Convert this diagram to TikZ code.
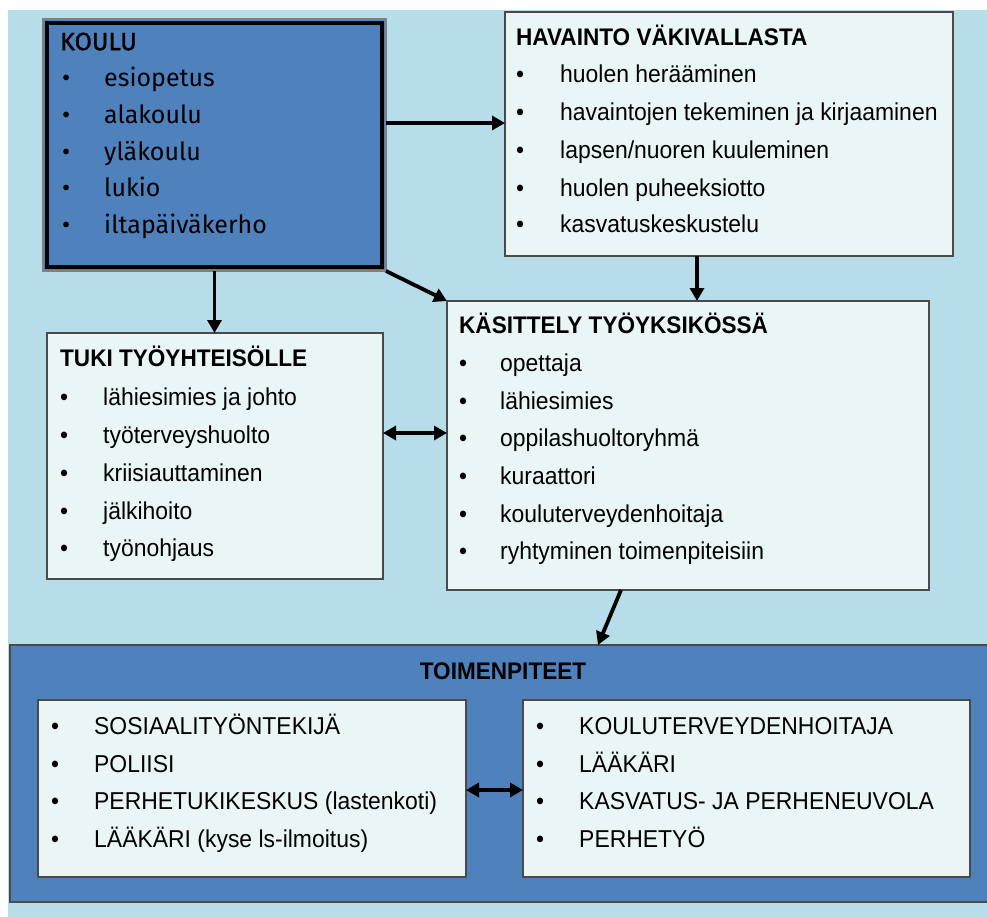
\documentclass[tikz,border=0pt]{standalone}
\usepackage{fontspec}
\setmainfont[FakeStretch=0.94]{Liberation Sans}
\newfontfamily\schoolfont{Fira Sans}
\newfontfamily\schoolheadfont[FakeBold=1.2]{Fira Sans}
\usetikzlibrary{arrows.meta}
\definecolor{bgblue}{HTML}{B7DDE8}
\definecolor{darkblue}{HTML}{4F81BD}
\definecolor{paleblue}{HTML}{EAF6F6}
\definecolor{edgegray}{HTML}{4A4A4A}

\begin{document}
\begin{tikzpicture}[x=1pt,y=-1pt,
  panel/.style={draw=edgegray, line width=1.2pt, fill=paleblue, inner sep=0pt, outer sep=0pt},
  textline/.style={anchor=mid west, inner sep=0pt, yshift=-6.5pt},
  heading/.style={textline, font=\fontsize{24}{28}\selectfont\bfseries},
  item/.style={textline, font=\fontsize{24.4}{28}\selectfont},
  schoolitem/.style={textline, font=\schoolfont\fontsize{25}{29}\selectfont},
  schoolhead/.style={textline, font=\schoolheadfont\fontsize{25}{29}\selectfont},
  link/.style={line width=3.8pt, -{Triangle[length=13pt,width=14pt]}},
  duplex/.style={line width=3.8pt, {Triangle[length=13pt,width=14pt]}-{Triangle[length=13pt,width=14pt]}}]

% canvas
\fill[white] (0,0) rectangle (987,917);
\fill[bgblue] (8,10) rectangle (987,917);
\useasboundingbox (0,0) rectangle (987,917);

% KOULU
\node[draw=gray, line width=1.2pt, fill=darkblue, minimum width=343pt, minimum height=252pt,
      inner sep=0pt, outer sep=0pt] (koulu) at (214.5,145) {};
\node[draw=black, line width=4pt, minimum width=335pt, minimum height=244pt,
      inner sep=0pt] (kouluframe) at (214.5,145) {};
\node[schoolhead] (koulut) at (60,41) {KOULU};
\foreach \y/\t [count=\i] in {77/esiopetus,114/alakoulu,151/yläkoulu,187/lukio,224/iltapäiväkerho}{
  \node[schoolitem] (kb\i) at (62,\y) {•};
  \node[schoolitem] (ki\i) at (104,\y) {\t};
}

% HAVAINTO VÄKIVALLASTA
\node[panel, minimum width=448pt, minimum height=244pt] (havainto) at (729,134) {};
\node[heading] (havt) at (516,36) {HAVAINTO VÄKIVALLASTA};
\foreach \y/\t [count=\i] in {73/{huolen herääminen},111/{havaintojen tekeminen ja kirjaaminen},
    149/{lapsen/nuoren kuuleminen},187/{huolen puheeksiotto},223/{kasvatuskeskustelu}}{
  \node[item] (hb\i) at (516,\y) {•};
  \node[item] (hi\i) at (560,\y) {\t};
}

% TUKI TYÖYHTEISÖLLE
\node[panel, minimum width=336pt, minimum height=246pt] (tuki) at (215,456) {};
\node[heading] (tukit) at (60,357) {TUKI TYÖYHTEISÖLLE};
\foreach \y/\t [count=\i] in {396/lähiesimies ja johto,434/työterveyshuolto,472/kriisiauttaminen,
    510/jälkihoito,547/työnohjaus}{
  \node[item] (tb\i) at (60,\y) {•};
  \node[item] (ti\i) at (103,\y) {\t};
}

% KÄSITTELY TYÖYKSIKÖSSÄ
\node[panel, minimum width=482pt, minimum height=289pt] (kasittely) at (688,445.5) {};
\node[heading] (kast) at (459,324) {KÄSITTELY TYÖYKSIKÖSSÄ};
\foreach \y/\t [count=\i] in {362/opettaja,400/lähiesimies,437/oppilashuoltoryhmä,475/kuraattori,
    513/kouluterveydenhoitaja,550/ryhtyminen toimenpiteisiin}{
  \node[item] (sb\i) at (459,\y) {•};
  \node[item] (si\i) at (500,\y) {\t};
}

% TOIMENPITEET
\node[draw=edgegray, line width=1.2pt, fill=darkblue, minimum width=982pt, minimum height=257pt,
      inner sep=0pt, outer sep=0pt] (toimen) at (501,773.5) {};
\node[heading, anchor=mid] (toiment) at (503,670) {TOIMENPITEET};
\node[panel, minimum width=428pt, minimum height=177pt] (left) at (252,788.5) {};
\node[panel, minimum width=447pt, minimum height=177pt] (right) at (746.5,788.5) {};
\foreach \y/\t [count=\i] in {725/SOSIAALITYÖNTEKIJÄ,763/POLIISI,800/{PERHETUKIKESKUS (lastenkoti)},
    838/{LÄÄKÄRI (kyse ls-ilmoitus)}}{
  \node[item] (lb\i) at (51,\y) {•};
  \node[item] (li\i) at (94,\y) {\t};
}
\foreach \y/\t [count=\i] in {725/KOULUTERVEYDENHOITAJA,763/LÄÄKÄRI,800/{KASVATUS- JA PERHENEUVOLA},
    838/PERHETYÖ}{
  \node[item] (rb\i) at (536,\y) {•};
  \node[item] (ri\i) at (579,\y) {\t};
}

% connectors
\draw[link] (koulu.east |- 0,123) -- (havainto.west |- 0,123);
\draw[link] (koulu.south) -- (koulu.south |- tuki.north);
\draw[link] (koulu.south east) -- (kasittely.north west);
\draw[link] (havainto.south -| 697,0) -- (kasittely.north -| 697,0);
\draw[duplex] (tuki.east |- 0,433) -- (kasittely.west |- 0,433);
\draw[link] (kasittely.south -| 621,0) -- (toimen.north -| 598,0);
\draw[duplex] (left.east |- 0,790) -- (right.west |- 0,790);
\end{tikzpicture}
\end{document}
